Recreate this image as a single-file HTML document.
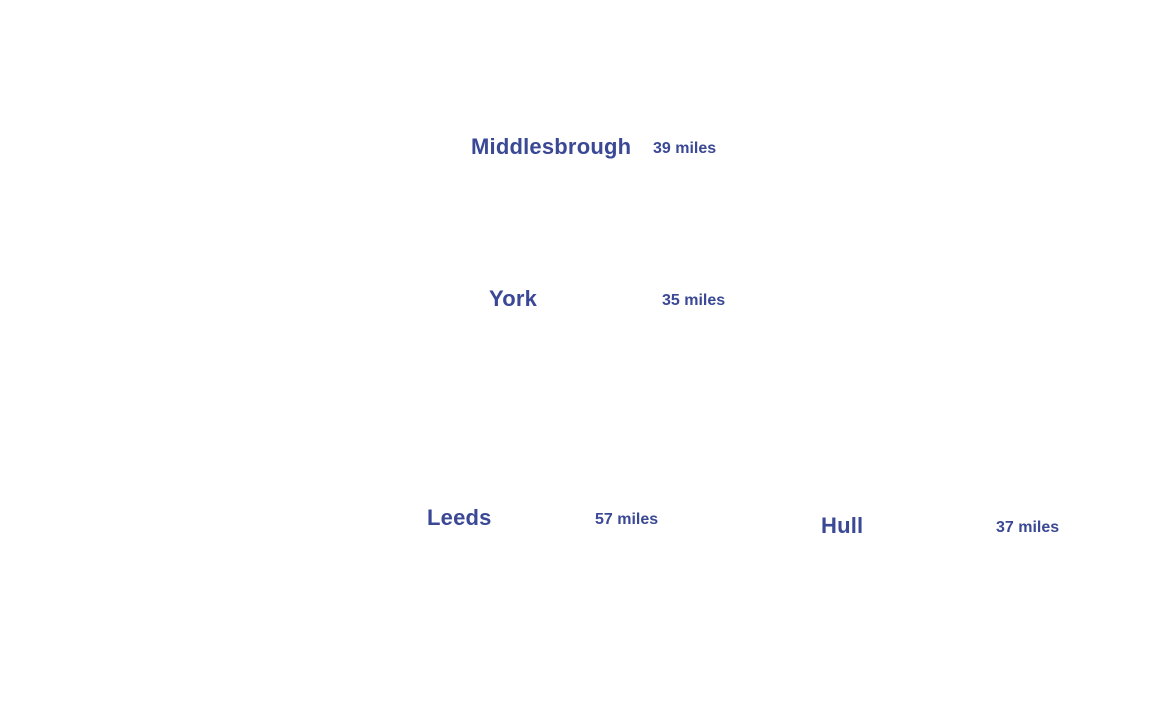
<!DOCTYPE html>
<html><head><style>
html,body{margin:0;padding:0;background:#fff;width:1170px;height:716px;overflow:hidden;position:relative}
div{position:absolute;font-family:"Liberation Sans",sans-serif;font-weight:bold;color:#3a4895;line-height:1;white-space:nowrap}
.c{font-size:22px;letter-spacing:0.2px}
.m{font-size:16px;letter-spacing:0px}
</style></head><body>
<div class="c" style="left:471px;top:136px">Middlesbrough</div>
<div class="m" style="left:653px;top:141px">39 miles</div>
<div class="c" style="left:489px;top:288px">York</div>
<div class="m" style="left:662px;top:293px">35 miles</div>
<div class="c" style="left:427px;top:507px">Leeds</div>
<div class="m" style="left:595px;top:512px">57 miles</div>
<div class="c" style="left:821px;top:515px">Hull</div>
<div class="m" style="left:996px;top:520px">37 miles</div>
</body></html>
